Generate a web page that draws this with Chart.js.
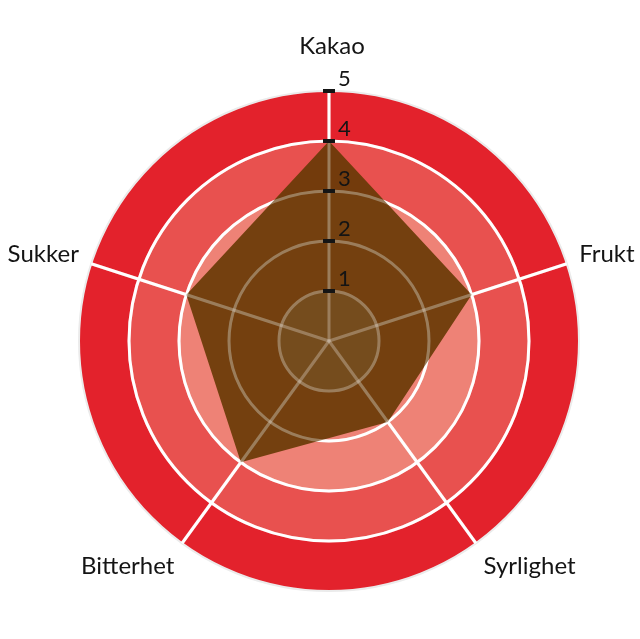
<!DOCTYPE html>
<html>
<head>
<meta charset="utf-8">
<script src="https://cdn.jsdelivr.net/npm/chart.js@4/dist/chart.umd.min.js"></script>
<style>
  html, body { margin: 0; padding: 0; background: #fff; }
  #wrap { width: 640px; height: 639px; }
</style>
</head>
<body>
<div id="wrap"><canvas id="myChart"></canvas></div>
<script>
const egenskaper = ['Kakao', 'Frukt', 'Syrlighet', 'Bitterhet', 'Sukker'];
const verdier = [4, 3, 2, 3, 3];
const skalaMin = 0;
const skalaMax = 5;
const tikkSteg = 1;

// fargene på ringene, fra ytterst og innover
const ringFarger = ['#e3222c', '#e8514f', '#ee8276', '#ffffff'];
const ringGrenser = [5, 4, 3, 1];

const tekstFarge = '#141414';

const ringPlugin = {
    id: 'ringer',
    beforeDraw(chart) {
        const r = chart.scales.r;
        const ctx = chart.ctx;
        ctx.save();
        ringGrenser.forEach((v, i) => {
            ctx.beginPath();
            ctx.arc(r.xCenter, r.yCenter, r.getDistanceFromCenterForValue(v), 0, Math.PI * 2);
            ctx.fillStyle = ringFarger[i];
            ctx.fill();
        });
        ctx.restore();
    },
    afterDatasetsDraw(chart) {
        const r = chart.scales.r;
        const ctx = chart.ctx;
        ctx.save();

        // svake lyse linjer oppå det brune feltet
        ctx.strokeStyle = 'rgba(255, 255, 255, 0.28)';
        ctx.lineWidth = 3;
        r.ticks.forEach(t => {
            if (t.value <= skalaMin || t.value >= skalaMax) return;
            ctx.beginPath();
            ctx.arc(r.xCenter, r.yCenter, r.getDistanceFromCenterForValue(t.value), 0, Math.PI * 2);
            ctx.stroke();
        });
        egenskaper.forEach((_, i) => {
            const p = r.getPointPositionForValue(i, skalaMax);
            ctx.beginPath();
            ctx.moveTo(r.xCenter, r.yCenter);
            ctx.lineTo(p.x, p.y);
            ctx.stroke();
        });

        // tikkmerker og tall langs aksen
        ctx.fillStyle = tekstFarge;
        ctx.font = '22px Lato';
        ctx.textAlign = 'left';
        ctx.textBaseline = 'alphabetic';
        r.ticks.forEach(t => {
            if (t.value <= skalaMin) return;
            const y = r.yCenter - r.getDistanceFromCenterForValue(t.value);
            ctx.fillRect(r.xCenter - 6, y - 2, 12, 4);
            ctx.fillText(t.label != null ? t.label : String(t.value), r.xCenter + 9, y - 5);
        });

        // navn på egenskapene
        ctx.font = '24px Lato';
        egenskaper.forEach((navn, i) => {
            const p = r.getPointPosition(i, r.drawingArea + 13);
            const dx = p.x - r.xCenter;
            if (Math.abs(dx) < 1) {
                ctx.textAlign = 'center';
                ctx.textBaseline = 'alphabetic';
                ctx.fillText(navn, p.x + 3, p.y - 24);
                return;
            }
            ctx.textAlign = dx > 0 ? 'left' : 'right';
            if (p.y < r.yCenter) {
                ctx.textBaseline = 'alphabetic';
                ctx.fillText(navn, p.x, p.y + 2);
            } else {
                ctx.textBaseline = 'top';
                ctx.fillText(navn, p.x, p.y);
            }
        });
        ctx.restore();
    }
};

const ctx = document.getElementById('myChart');

new Chart(ctx, {
    type: 'radar',
    data: {
        labels: egenskaper,
        datasets: [{
            label: 'Smak',
            data: verdier,
            fill: true,
            backgroundColor: 'rgba(102, 56, 4, 0.9)',
            borderWidth: 0,
            pointRadius: 0,
            pointHoverRadius: 0
        }]
    },
    options: {
        responsive: true,
        maintainAspectRatio: false,
        animation: false,
        layout: {
            padding: { left: 79, right: 61, top: 91, bottom: 48 }
        },
        scales: {
            r: {
                min: skalaMin,
                max: skalaMax,
                ticks: { display: false, stepSize: tikkSteg },
                pointLabels: { display: false },
                grid: {
                    circular: true,
                    color: c => (c.tick && c.tick.value === skalaMax) ? '#ebebeb' : '#ffffff',
                    lineWidth: c => (c.tick && c.tick.value === skalaMax) ? 2 : 3
                },
                angleLines: { color: '#ffffff', lineWidth: 3 }
            }
        },
        plugins: {
            legend: { display: false },
            tooltip: { enabled: false }
        }
    },
    plugins: [ringPlugin]
});
</script>
</body>
</html>
